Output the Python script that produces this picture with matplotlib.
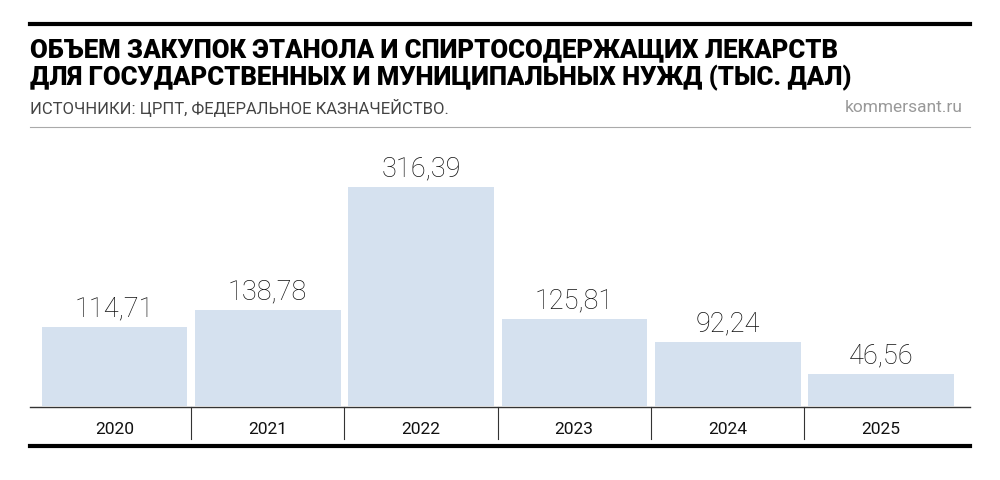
import matplotlib.pyplot as plt
from matplotlib.lines import Line2D

years = ['2020', '2021', '2022', '2023', '2024', '2025']
values = [114.71, 138.78, 316.39, 125.81, 92.24, 46.56]
labels = ['114,71', '138,78', '316,39', '125,81', '92,24', '46,56']

plt.rcParams['font.family'] = ['Roboto', 'DejaVu Sans']

fig = plt.figure(figsize=(10, 4.81), dpi=100)
W, H = 1000, 481

def fy(py):
    return 1 - py / H

# top rules and header
fig.add_artist(Line2D([0.03, 0.97], [fy(25), fy(25)], color='black', lw=3))
fig.text(0.03, fy(50), 'ОБЪЕМ ЗАКУПОК ЭТАНОЛА И СПИРТОСОДЕРЖАЩИХ ЛЕКАРСТВ',
         fontsize=18.5, fontweight='black', va='center', ha='left')
fig.text(0.03, fy(78), 'ДЛЯ ГОСУДАРСТВЕННЫХ И МУНИЦИПАЛЬНЫХ НУЖД (ТЫС. ДАЛ)',
         fontsize=18.5, fontweight='black', va='center', ha='left')
fig.text(0.03, fy(108), 'ИСТОЧНИКИ: ЦРПТ, ФЕДЕРАЛЬНОЕ КАЗНАЧЕЙСТВО.',
         fontsize=12, color='#444444', va='center', ha='left')
fig.text(0.963, fy(108), 'kommersant.ru', fontsize=12.5, color='#999999',
         va='center', ha='right')
fig.add_artist(Line2D([0.03, 0.97], [fy(128), fy(128)], color='#aaaaaa', lw=0.8))

# bars
ax = fig.add_axes([0.03, fy(407), 0.94, (407 - 140) / H])
x = list(range(len(years)))
ax.bar(x, values, width=0.95, color='#d5e1ef')
for xi, v, lab in zip(x, values, labels):
    ax.text(xi, v + 8, lab, ha='center', va='bottom', fontsize=19.5,
            fontweight='light', color='#111111')
ax.set_xlim(-0.55, 5.58)
ax.set_ylim(0, 386)
ax.axis('off')

# bottom band
fig.add_artist(Line2D([0.03, 0.97], [fy(408), fy(408)], color='#333333', lw=1))
fig.add_artist(Line2D([0.03, 0.97], [fy(447), fy(447)], color='black', lw=3))
for i, yr in enumerate(years):
    xc = (114.5 + i * 153.2) / W
    fig.text(xc, fy(430), yr, ha='center', va='center', fontsize=12.5, color='#111111')
    if i > 0:
        xs = (114.5 + (i - 0.5) * 153.2) / W
        fig.add_artist(Line2D([xs, xs], [fy(408), fy(440)], color='#333333', lw=0.8))

fig.savefig('out.png', dpi=100)
